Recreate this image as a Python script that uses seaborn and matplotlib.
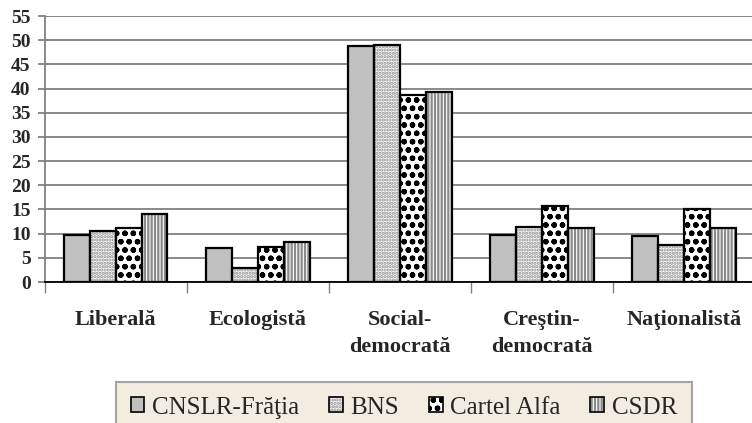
import pandas as pd
import numpy as np
import matplotlib
matplotlib.use("Agg")
import matplotlib.pyplot as plt
import matplotlib.patches as mpatches
import seaborn as sns

# date
categorii = ["Liberală", "Ecologistă", "Social-\ndemocrată", "Creştin-\ndemocrată", "Naţionalistă"]
sindicate = ["CNSLR-Frăţia", "BNS", "Cartel Alfa", "CSDR"]
cnslr = [9.8, 7.0, 48.7, 9.7, 9.5]
bns = [10.6, 3.0, 49.0, 11.4, 7.6]
cartel = [11.2, 7.2, 38.6, 15.8, 15.1]
csdr = [14.0, 8.3, 39.2, 11.2, 11.1]

# stil: culoare fundal, culoare hasura, hasura
fete = ["#c0c0c0", "white", "white", "white"]
culori_hasura = ["#c0c0c0", "#8a8a8a", "black", "#8a8a8a"]
hasuri = ["", ".....", "oo", "|||||"]

sns.set_style("white")
plt.rcParams["font.family"] = "serif"
plt.rcParams["font.serif"] = ["Liberation Serif", "DejaVu Serif"]
plt.rcParams["hatch.linewidth"] = 1.6

df = pd.DataFrame({
    "categorie": np.repeat(categorii, len(sindicate)),
    "sindicat": sindicate * len(categorii),
    "valoare": np.ravel(np.column_stack([cnslr, bns, cartel, csdr])),
})

fig = plt.figure(figsize=(7.52, 4.23), dpi=100)
ax = fig.add_axes([0.0592, 0.3333, 0.9448, 0.6288])

sns.barplot(data=df, x="categorie", y="valoare", hue="sindicat",
            order=categorii, hue_order=sindicate, width=0.73,
            palette=fete, linewidth=0, legend=False, ax=ax, zorder=2)

# hasura pe bare + contur negru
for cont, h, hc in zip(ax.containers, hasuri, culori_hasura):
    for p in cont:
        p.set_hatch(h)
        p.set_edgecolor(hc)
        p.set_linewidth(0)
        ax.add_patch(mpatches.Rectangle(p.get_xy(), p.get_width(), p.get_height(),
                                        fill=False, edgecolor="black", linewidth=1.6, zorder=3))

ax.set_xlim(-0.5, len(categorii) - 0.5)
ax.set_ylim(0, 55)
ax.set_yticks(range(0, 56, 5))
ax.yaxis.grid(True, color="#808080", linewidth=1.3, zorder=0)
ax.set_axisbelow(True)
ax.set_xlabel("")
ax.set_ylabel("")

for s in ["top", "right"]:
    ax.spines[s].set_visible(False)
ax.spines["left"].set_color("#808080")
ax.spines["left"].set_linewidth(1.3)
ax.spines["bottom"].set_color("black")
ax.spines["bottom"].set_linewidth(1.3)

ax.set_xticks(np.arange(-0.5, len(categorii)), minor=True)
ax.tick_params(axis="x", which="minor", length=8, width=1, color="#808080", direction="out", bottom=True)
ax.tick_params(axis="x", which="major", length=0, pad=20)
ax.tick_params(axis="y", length=5, width=1.3, color="#808080", left=True, pad=5)
for lab in ax.get_xticklabels():
    lab.set_fontsize(16)
    lab.set_fontweight("bold")
    lab.set_verticalalignment("top")
    lab.set_linespacing(1.5)
for lab in ax.get_yticklabels():
    lab.set_fontsize(14)
    lab.set_fontweight("bold")

manere = [mpatches.Patch(facecolor=f, edgecolor=hc, hatch=h, linewidth=0)
          for f, hc, h in zip(fete, culori_hasura, hasuri)]
manere = [(m, mpatches.Patch(fill=False, edgecolor="black", linewidth=1.2)) for m in manere]
leg = fig.legend(manere, sindicate, loc="upper center", bbox_to_anchor=(0.537, 0.098),
                 ncol=4, frameon=True, fancybox=False, fontsize=18,
                 handlelength=0.55, handleheight=0.55, handletextpad=0.3,
                 columnspacing=1.2, borderpad=0.6, borderaxespad=0)
leg.get_frame().set_facecolor("#efe8da")
leg.get_frame().set_edgecolor("#909090")
leg.get_frame().set_linewidth(1.5)

plt.savefig("out.png", dpi=100)
